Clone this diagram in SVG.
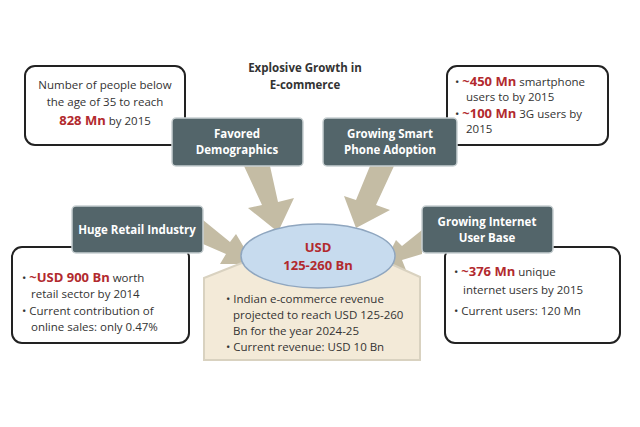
<svg xmlns="http://www.w3.org/2000/svg" width="640" height="427" viewBox="0 0 640 427">
<style>
text{font-family:"Open Sans","Liberation Sans",sans-serif;font-size:11.5px;fill:#333}
.dk rect{fill:#53656a;stroke:#c8d0d2;stroke-width:1.5}
.dk text{fill:#fff;font-weight:bold;text-anchor:middle}
.wb{fill:#fff;stroke:#222;stroke-width:2}
.r{fill:#b22a2e;font-weight:bold;font-size:13px}
.ar{fill:#c4bca4}
</style>
<rect width="640" height="427" fill="#fff"/>
<g id="title"><text x="305" y="72" text-anchor="middle" font-weight="bold" fill="#222">Explosive Growth  in</text><text x="305" y="89" text-anchor="middle" font-weight="bold" fill="#222">E-commerce</text></g>
<g id="connectors">
<polygon class="ar" points="244,166 270,166 278,202 294,198 278,232 248,208 262,205"/>
<polygon class="ar" points="370,166 394,166 376,205 390,210 356,228 344,196 356,200"/>
<polygon class="ar" points="203,220 203,244 226,254 220,264 254,264 236,234 230,242"/>
<polygon class="ar" points="422,230 422,254 402,260 406,270 382,268 396,240 402,246"/>
</g>
<g id="center">
<polygon points="204,278 320,232 420,277 420,360 204,360" fill="#f3ead8" stroke="#d9d2c0" stroke-width="2"/>
<ellipse cx="318" cy="256" rx="77" ry="32" fill="#c7dbee" stroke="#8fa6bf" stroke-width="1.5"/>
<text x="318" y="252" text-anchor="middle" class="r">USD</text>
<text x="318" y="270" text-anchor="middle" class="r">125-260 Bn</text>
<text x="226" y="303">• Indian e-commerce revenue</text>
<text x="233" y="319">projected to reach USD 125-260</text>
<text x="233" y="335">Bn for the year 2024-25</text>
<text x="226" y="351">• Current revenue: USD 10 Bn</text>
</g>
<g id="box-demo">
<rect class="wb" x="25" y="66" width="160" height="79" rx="10"/>
<text x="105" y="89" text-anchor="middle">Number of people below</text>
<text x="105" y="106" text-anchor="middle">the age of 35 to reach</text>
<text x="105" y="125" text-anchor="middle"><tspan class="r">828 Mn</tspan> by 2015</text>
</g>
<g id="favored" class="dk"><rect x="172" y="118" width="131" height="48" rx="4"/><text x="237" y="138">Favored</text><text x="237" y="154">Demographics</text></g>
<g id="box-smart">
<rect class="wb" x="447" y="66" width="161" height="79" rx="10"/>
<text x="455" y="86">• <tspan class="r">~450 Mn</tspan> smartphone</text>
<text x="466" y="101">users to by 2015</text>
<text x="455" y="118">• <tspan class="r">~100 Mn</tspan> 3G users by</text>
<text x="466" y="133">2015</text>
</g>
<g id="smart" class="dk"><rect x="323" y="118" width="134" height="48" rx="4"/><text x="390" y="138">Growing Smart</text><text x="390" y="154">Phone Adoption</text></g>
<g id="box-retail">
<rect class="wb" x="12" y="247" width="177" height="96" rx="10"/>
<text x="22" y="282">• <tspan class="r">~USD 900 Bn</tspan> worth</text>
<text x="31" y="298">retail sector by 2014</text>
<text x="22" y="315">• Current contribution of</text>
<text x="31" y="331">online sales: only 0.47%</text>
</g>
<g id="retail" class="dk"><rect x="72" y="206" width="131" height="47" rx="4"/><text x="137" y="234">Huge Retail Industry</text></g>
<g id="box-internet">
<rect class="wb" x="445" y="247" width="175" height="96" rx="10"/>
<text x="454" y="276">• <tspan class="r">~376 Mn</tspan> unique</text>
<text x="463" y="294">internet users by 2015</text>
<text x="454" y="315">• Current users: 120 Mn</text>
</g>
<g id="internet" class="dk"><rect x="422" y="206" width="131" height="47" rx="4"/><text x="487" y="226">Growing Internet</text><text x="487" y="242">User Base</text></g>
</svg>
